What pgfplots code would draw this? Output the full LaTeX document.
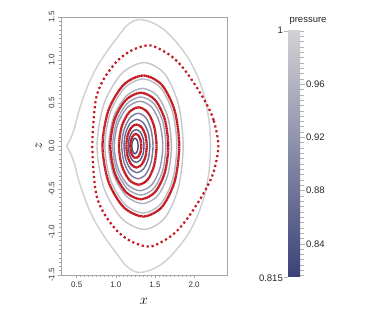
\documentclass[border=0pt]{standalone}
\usepackage{fontspec}
\setmainfont{Liberation Sans}
\usepackage{pgfplots}
\pgfplotsset{compat=1.18}

% contour colours
\definecolor{p100}{RGB}{210,210,212}
\definecolor{p985}{RGB}{198,198,205}
\definecolor{p970}{RGB}{186,187,197}
\definecolor{p955}{RGB}{173,175,190}
\definecolor{p940}{RGB}{161,163,182}
\definecolor{p925}{RGB}{149,152,175}
\definecolor{p890}{RGB}{120,124,157}
\definecolor{p870}{RGB}{104,109,147}
\definecolor{p850}{RGB}{88,93,137}
\definecolor{p830}{RGB}{71,78,127}
\definecolor{cbbot}{RGB}{59,66,120}
\definecolor{redpt}{RGB}{196,24,32}
\definecolor{framegray}{RGB}{165,165,165}

\pgfplotsset{
  cont/.style={smooth cycle, line width=1.4pt},
  poinc/.style={smooth cycle, redpt, line width=2.3pt, dash pattern=on 1.9pt off 0.4pt},
}

\begin{document}
\begin{tikzpicture}
\path[use as bounding box] (0,0) rectangle (374pt,328pt);

\begin{axis}[
    at={(61pt,53pt)}, anchor=south west,
    scale only axis, width=166pt, height=258pt,
    xmin=0.3, xmax=2.42, ymin=-1.5, ymax=1.5,
    xtick={0.5,1,1.5,2}, xticklabels={0.5,1.0,1.5,2.0},
    ytick={-1.5,-1,-0.5,0,0.5,1,1.5},
    yticklabels={-1.5,-1.0,-0.5,0.0,0.5,1.0,1.5},
    minor x tick num=9, minor y tick num=9,
    tick pos=left, tick align=outside,
    major tick length=3pt, minor tick length=1.8pt,
    axis line style={framegray, line width=0.6pt},
    tick style={framegray, line width=0.5pt},
    tick label style={font=\fontsize{8}{9}\selectfont, black!80},
    yticklabel style={rotate=90, anchor=south},
    xlabel={$x$}, ylabel={$z$},
    label style={font=\fontsize{14}{14}\selectfont},
    xlabel style={yshift=-4pt},
]
% outer pressure contour (cusp at the left)
\addplot[smooth, p100, line width=1.5pt] coordinates {
  (0.37,0) (0.42,0.08) (0.47,0.2) (0.52,0.38) (0.58,0.55) (0.66,0.74)
  (0.76,0.92) (0.88,1.09) (1.01,1.25) (1.14,1.40) (1.28,1.47) (1.45,1.44)
  (1.62,1.35) (1.78,1.2) (1.92,1.03) (2.04,0.82) (2.13,0.58) (2.19,0.3)
  (2.21,0) (2.19,-0.3) (2.13,-0.58) (2.04,-0.82) (1.92,-1.03) (1.78,-1.2)
  (1.62,-1.35) (1.45,-1.44) (1.28,-1.47) (1.14,-1.40) (1.01,-1.25) (0.88,-1.09)
  (0.76,-0.92) (0.66,-0.74) (0.58,-0.55) (0.52,-0.38) (0.47,-0.2) (0.42,-0.08)
  (0.37,0)
};
% inner pressure contours
\addplot[cont, p985] coordinates {
  (1.86,0) (1.799,0.485) (1.623,0.84) (1.36,0.97) (1.073,0.84) (0.847,0.485)
  (0.76,0) (0.847,-0.485) (1.073,-0.84) (1.36,-0.97) (1.623,-0.84) (1.799,-0.485)
};
\addplot[cont, p970] coordinates {
  (1.78,0) (1.726,0.39) (1.573,0.675) (1.35,0.78) (1.113,0.675) (0.93,0.39)
  (0.86,0) (0.93,-0.39) (1.113,-0.675) (1.35,-0.78) (1.573,-0.675) (1.726,-0.39)
};
\addplot[cont, p955] coordinates {
  (1.71,0) (1.664,0.335) (1.533,0.58) (1.34,0.67) (1.133,0.58) (0.972,0.335)
  (0.91,0) (0.972,-0.335) (1.133,-0.58) (1.34,-0.67) (1.533,-0.58) (1.664,-0.335)
};
\addplot[cont, p940] coordinates {
  (1.64,0) (1.599,0.285) (1.485,0.494) (1.32,0.57) (1.145,0.494) (1.011,0.285)
  (0.96,0) (1.011,-0.285) (1.145,-0.494) (1.32,-0.57) (1.485,-0.494) (1.599,-0.285)
};
\addplot[cont, p925] coordinates {
  (1.60,0) (1.563,0.26) (1.46,0.45) (1.31,0.52) (1.15,0.45) (1.027,0.26)
  (0.98,0) (1.027,-0.26) (1.15,-0.45) (1.31,-0.52) (1.46,-0.45) (1.563,-0.26)
};
\addplot[cont, p890] coordinates {
  (1.475,0) (1.45,0.19) (1.383,0.329) (1.285,0.38) (1.183,0.329) (1.105,0.19)
  (1.075,0) (1.105,-0.19) (1.183,-0.329) (1.285,-0.38) (1.383,-0.329) (1.45,-0.19)
};
\addplot[cont, p870] coordinates {
  (1.435,0) (1.413,0.155) (1.353,0.268) (1.27,0.31) (1.188,0.268) (1.127,0.155)
  (1.105,0) (1.127,-0.155) (1.188,-0.268) (1.27,-0.31) (1.353,-0.268) (1.413,-0.155)
};
\addplot[cont, p850] coordinates {
  (1.36,0) (1.347,0.095) (1.31,0.165) (1.26,0.19) (1.21,0.165) (1.173,0.095)
  (1.16,0) (1.173,-0.095) (1.21,-0.165) (1.26,-0.19) (1.31,-0.165) (1.347,-0.095)
};
\addplot[cont, p830] coordinates {
  (1.285,0) (1.28,0.045) (1.265,0.078) (1.245,0.09) (1.225,0.078) (1.21,0.045)
  (1.205,0) (1.21,-0.045) (1.225,-0.078) (1.245,-0.09) (1.265,-0.078) (1.28,-0.045)
};

% Poincare sections (red points)
\addplot[smooth cycle, redpt, line width=2.2pt, dash pattern=on 2.2pt off 2.8pt] coordinates {
  (2.31,0) (2.25,0.30) (2.14,0.52) (1.97,0.77) (1.82,0.95) (1.67,1.07)
  (1.44,1.17) (1.22,1.12) (1.03,1.0) (0.86,0.80) (0.76,0.6) (0.72,0.35)
  (0.70,0) (0.72,-0.35) (0.76,-0.6) (0.86,-0.80) (1.03,-1.0) (1.22,-1.12)
  (1.44,-1.17) (1.67,-1.07) (1.82,-0.95) (1.97,-0.77) (2.14,-0.52) (2.25,-0.30)
};
\addplot[poinc] coordinates {
  (1.81,0) (1.752,0.41) (1.588,0.71) (1.35,0.82) (1.098,0.71) (0.904,0.41)
  (0.83,0) (0.904,-0.41) (1.098,-0.71) (1.35,-0.82) (1.588,-0.71) (1.752,-0.41)
};
\addplot[poinc] coordinates {
  (1.67,0) (1.625,0.31) (1.50,0.537) (1.32,0.62) (1.13,0.537) (0.985,0.31)
  (0.93,0) (0.985,-0.31) (1.13,-0.537) (1.32,-0.62) (1.50,-0.537) (1.625,-0.31)
};
\addplot[poinc] coordinates {
  (1.52,0) (1.49,0.225) (1.408,0.39) (1.29,0.45) (1.168,0.39) (1.075,0.225)
  (1.04,0) (1.075,-0.225) (1.168,-0.39) (1.29,-0.45) (1.408,-0.39) (1.49,-0.225)
};
\addplot[poinc] coordinates {
  (1.395,0) (1.378,0.125) (1.33,0.217) (1.265,0.25) (1.2,0.217) (1.152,0.125)
  (1.135,0) (1.152,-0.125) (1.2,-0.217) (1.265,-0.25) (1.33,-0.217) (1.378,-0.125)
};
\addplot[poinc] coordinates {
  (1.325,0) (1.316,0.07) (1.29,0.121) (1.255,0.14) (1.22,0.121) (1.194,0.07)
  (1.185,0) (1.194,-0.07) (1.22,-0.121) (1.255,-0.14) (1.29,-0.121) (1.316,-0.07)
};
\end{axis}

% colour bar
\begin{axis}[
    at={(288pt,51pt)}, anchor=south west,
    scale only axis, width=12pt, height=246pt,
    xmin=0, xmax=1, ymin=0.815, ymax=1,
    axis line style={draw=none},
    xtick=\empty,
    ytick={0.84,0.88,0.92,0.96}, yticklabels={0.84,0.88,0.92,0.96},
    minor ytick={0.816,0.82,...,0.999},
    ytick pos=right, yticklabel pos=right,
    tick align=outside, major tick length=5pt, minor tick length=4pt,
    tick style={gray!60, line width=0.5pt},
    yticklabel style={font=\fontsize{9.5}{10}\selectfont, black!85, inner sep=1pt},
]
\addplot[draw=none, top color=p100, bottom color=cbbot] coordinates {
  (0,0.815) (1,0.815) (1,1) (0,1)
};
\end{axis}
\draw[gray!60, line width=0.5pt] (284pt,297pt) -- (288pt,297pt);
\draw[gray!60, line width=0.5pt] (284pt,51pt) -- (288pt,51pt);
\node[anchor=east, inner sep=1pt, font=\fontsize{9.5}{10}\selectfont, black!85] at (284pt,298pt) {1};
\node[anchor=east, inner sep=1pt, font=\fontsize{9.5}{10}\selectfont, black!85] at (284pt,50pt) {0.815};
\node[font=\fontsize{9.5}{10}\selectfont, black!85] at (308pt,307pt) {pressure};
\end{tikzpicture}
\end{document}
